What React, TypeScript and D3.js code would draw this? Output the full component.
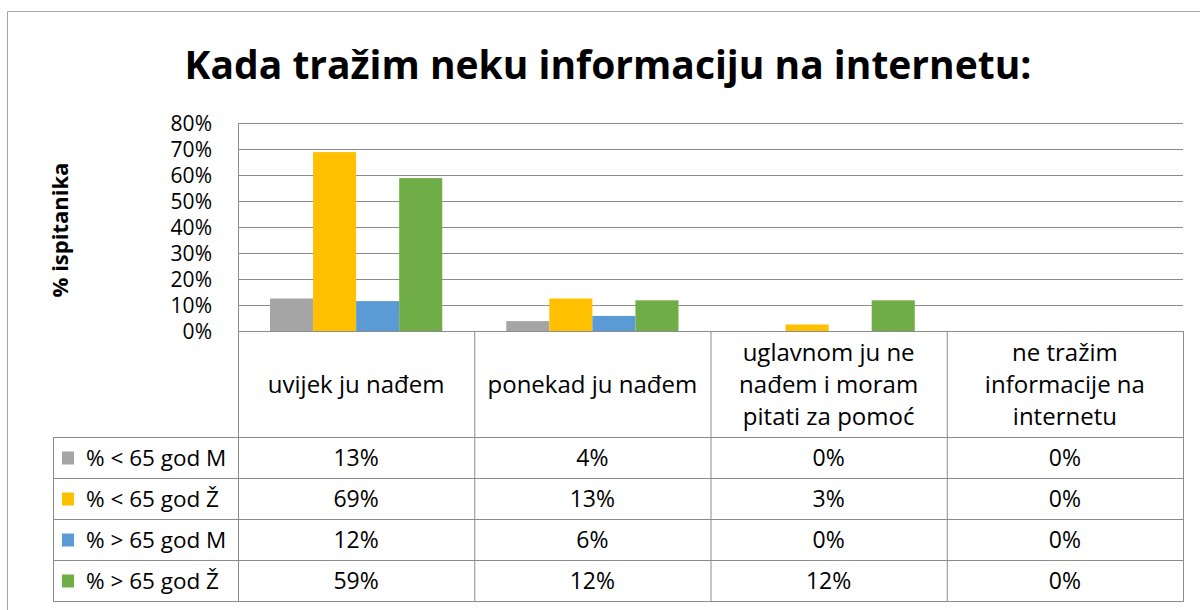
import React from "react";
import * as d3 from "d3";

const categories = [
  ["uvijek ju nađem"],
  ["ponekad ju nađem"],
  ["uglavnom ju ne", "nađem i moram", "pitati za pomoć"],
  ["ne tražim", "informacije na", "internetu"],
];
const seriesNames = ["% < 65 god M", "% < 65 god Ž", "% > 65 god M", "% > 65 god Ž"];
const seriesColors = ["#a5a5a5", "#ffc000", "#5b9bd5", "#70ad47"];
const s1 = [12.5, 3.8, 0, 0];
const s2 = [68.8, 12.5, 2.5, 0];
const s3 = [11.5, 5.8, 0, 0];
const s4 = [58.8, 11.8, 11.8, 0];
const series = [s1, s2, s3, s4];
const yTicks = [0, 10, 20, 30, 40, 50, 60, 70, 80];

const FONT = "'Open Sans', Lato, sans-serif";

export default function App() {
  const left = 238, right = 1183, top = 123, bottom = 331;
  const x = d3.scaleBand<number>().domain(d3.range(categories.length)).range([left, right]);
  const y = d3.scaleLinear().domain([0, 80]).range([bottom, top]);
  const groupPad = 32;
  const xs = d3
    .scaleBand<number>()
    .domain(d3.range(series.length))
    .range([groupPad, x.bandwidth() - groupPad]);
  const headerBottom = 437;
  const rowH = 41;
  const legendLeft = 53;
  const grid = "#8c8c8c";
  const fmt = (v: number) => `${Math.round(v)}%`;

  return (
    <svg
      width={1200}
      height={610}
      style={{ position: "absolute", left: 0, top: 0, background: "#fff" }}
      fontFamily={FONT}
    >
      <rect x={0} y={0} width={1200} height={610} fill="#fff" />
      <line x1={7.5} y1={11.5} x2={1200} y2={11.5} stroke="#a6a6a6" />
      <line x1={7.5} y1={11.5} x2={7.5} y2={610} stroke="#a6a6a6" />
      <text x={608} y={79} textAnchor="middle" fontSize={39} fontWeight="bold" fill="#000">
        Kada tražim neku informaciju na internetu:
      </text>
      <text
        transform={`translate(68,230) rotate(-90)`}
        textAnchor="middle"
        fontSize={22}
        fontWeight="bold"
      >
        % ispitanika
      </text>
      {yTicks.map((t) => (
        <g key={t}>
          <line x1={left} x2={right} y1={Math.round(y(t)) + 0.5} y2={Math.round(y(t)) + 0.5} stroke={grid} />
          <text x={212} y={y(t) + 7.5} textAnchor="end" fontSize={21}>
            {t}%
          </text>
        </g>
      ))}
      <line x1={left + 0.5} x2={left + 0.5} y1={top} y2={bottom} stroke={grid} />
      {series.map((vals, si) =>
        vals.map((v, ci) => (
          <rect
            key={`${si}-${ci}`}
            x={(x(ci) as number) + (xs(si) as number)}
            y={y(v)}
            width={xs.bandwidth()}
            height={bottom - y(v)}
            fill={seriesColors[si]}
          />
        ))
      )}
      <g stroke={grid} fill="none">
        <line x1={left + 0.5} x2={left + 0.5} y1={bottom} y2={headerBottom + rowH * 4} />
        {categories.map((_, ci) => (
          <line
            key={ci}
            x1={(x(ci) as number) + x.bandwidth() + 0.5}
            x2={(x(ci) as number) + x.bandwidth() + 0.5}
            y1={bottom}
            y2={headerBottom + rowH * 4}
          />
        ))}
        <line x1={legendLeft + 0.5} x2={legendLeft + 0.5} y1={headerBottom} y2={headerBottom + rowH * 4} />
        {d3.range(5).map((r) => (
          <line
            key={r}
            x1={legendLeft}
            x2={right + 1}
            y1={headerBottom + rowH * r + 0.5}
            y2={headerBottom + rowH * r + 0.5}
          />
        ))}
      </g>
      {categories.map((lines, ci) => {
        const cx = (x(ci) as number) + x.bandwidth() / 2;
        const lh = 32;
        const cy = (bottom + headerBottom) / 2;
        const y0 = cy - ((lines.length - 1) * lh) / 2;
        return (
          <text key={ci} textAnchor="middle" fontSize={24}>
            {lines.map((l, li) => (
              <tspan key={li} x={cx} y={y0 + li * lh + 9}>
                {l}
              </tspan>
            ))}
          </text>
        );
      })}
      {series.map((vals, si) => {
        const rowY = headerBottom + rowH * si + rowH / 2;
        return (
          <g key={si}>
            <rect x={62} y={rowY - 6} width={12} height={13} fill={seriesColors[si]} />
            <text x={86} y={rowY + 8} fontSize={22.5}>
              {seriesNames[si]}
            </text>
            {vals.map((v, ci) => (
              <text
                key={ci}
                x={(x(ci) as number) + x.bandwidth() / 2}
                y={rowY + 8}
                textAnchor="middle"
                fontSize={23}
              >
                {fmt(v)}
              </text>
            ))}
          </g>
        );
      })}
    </svg>
  );
}
